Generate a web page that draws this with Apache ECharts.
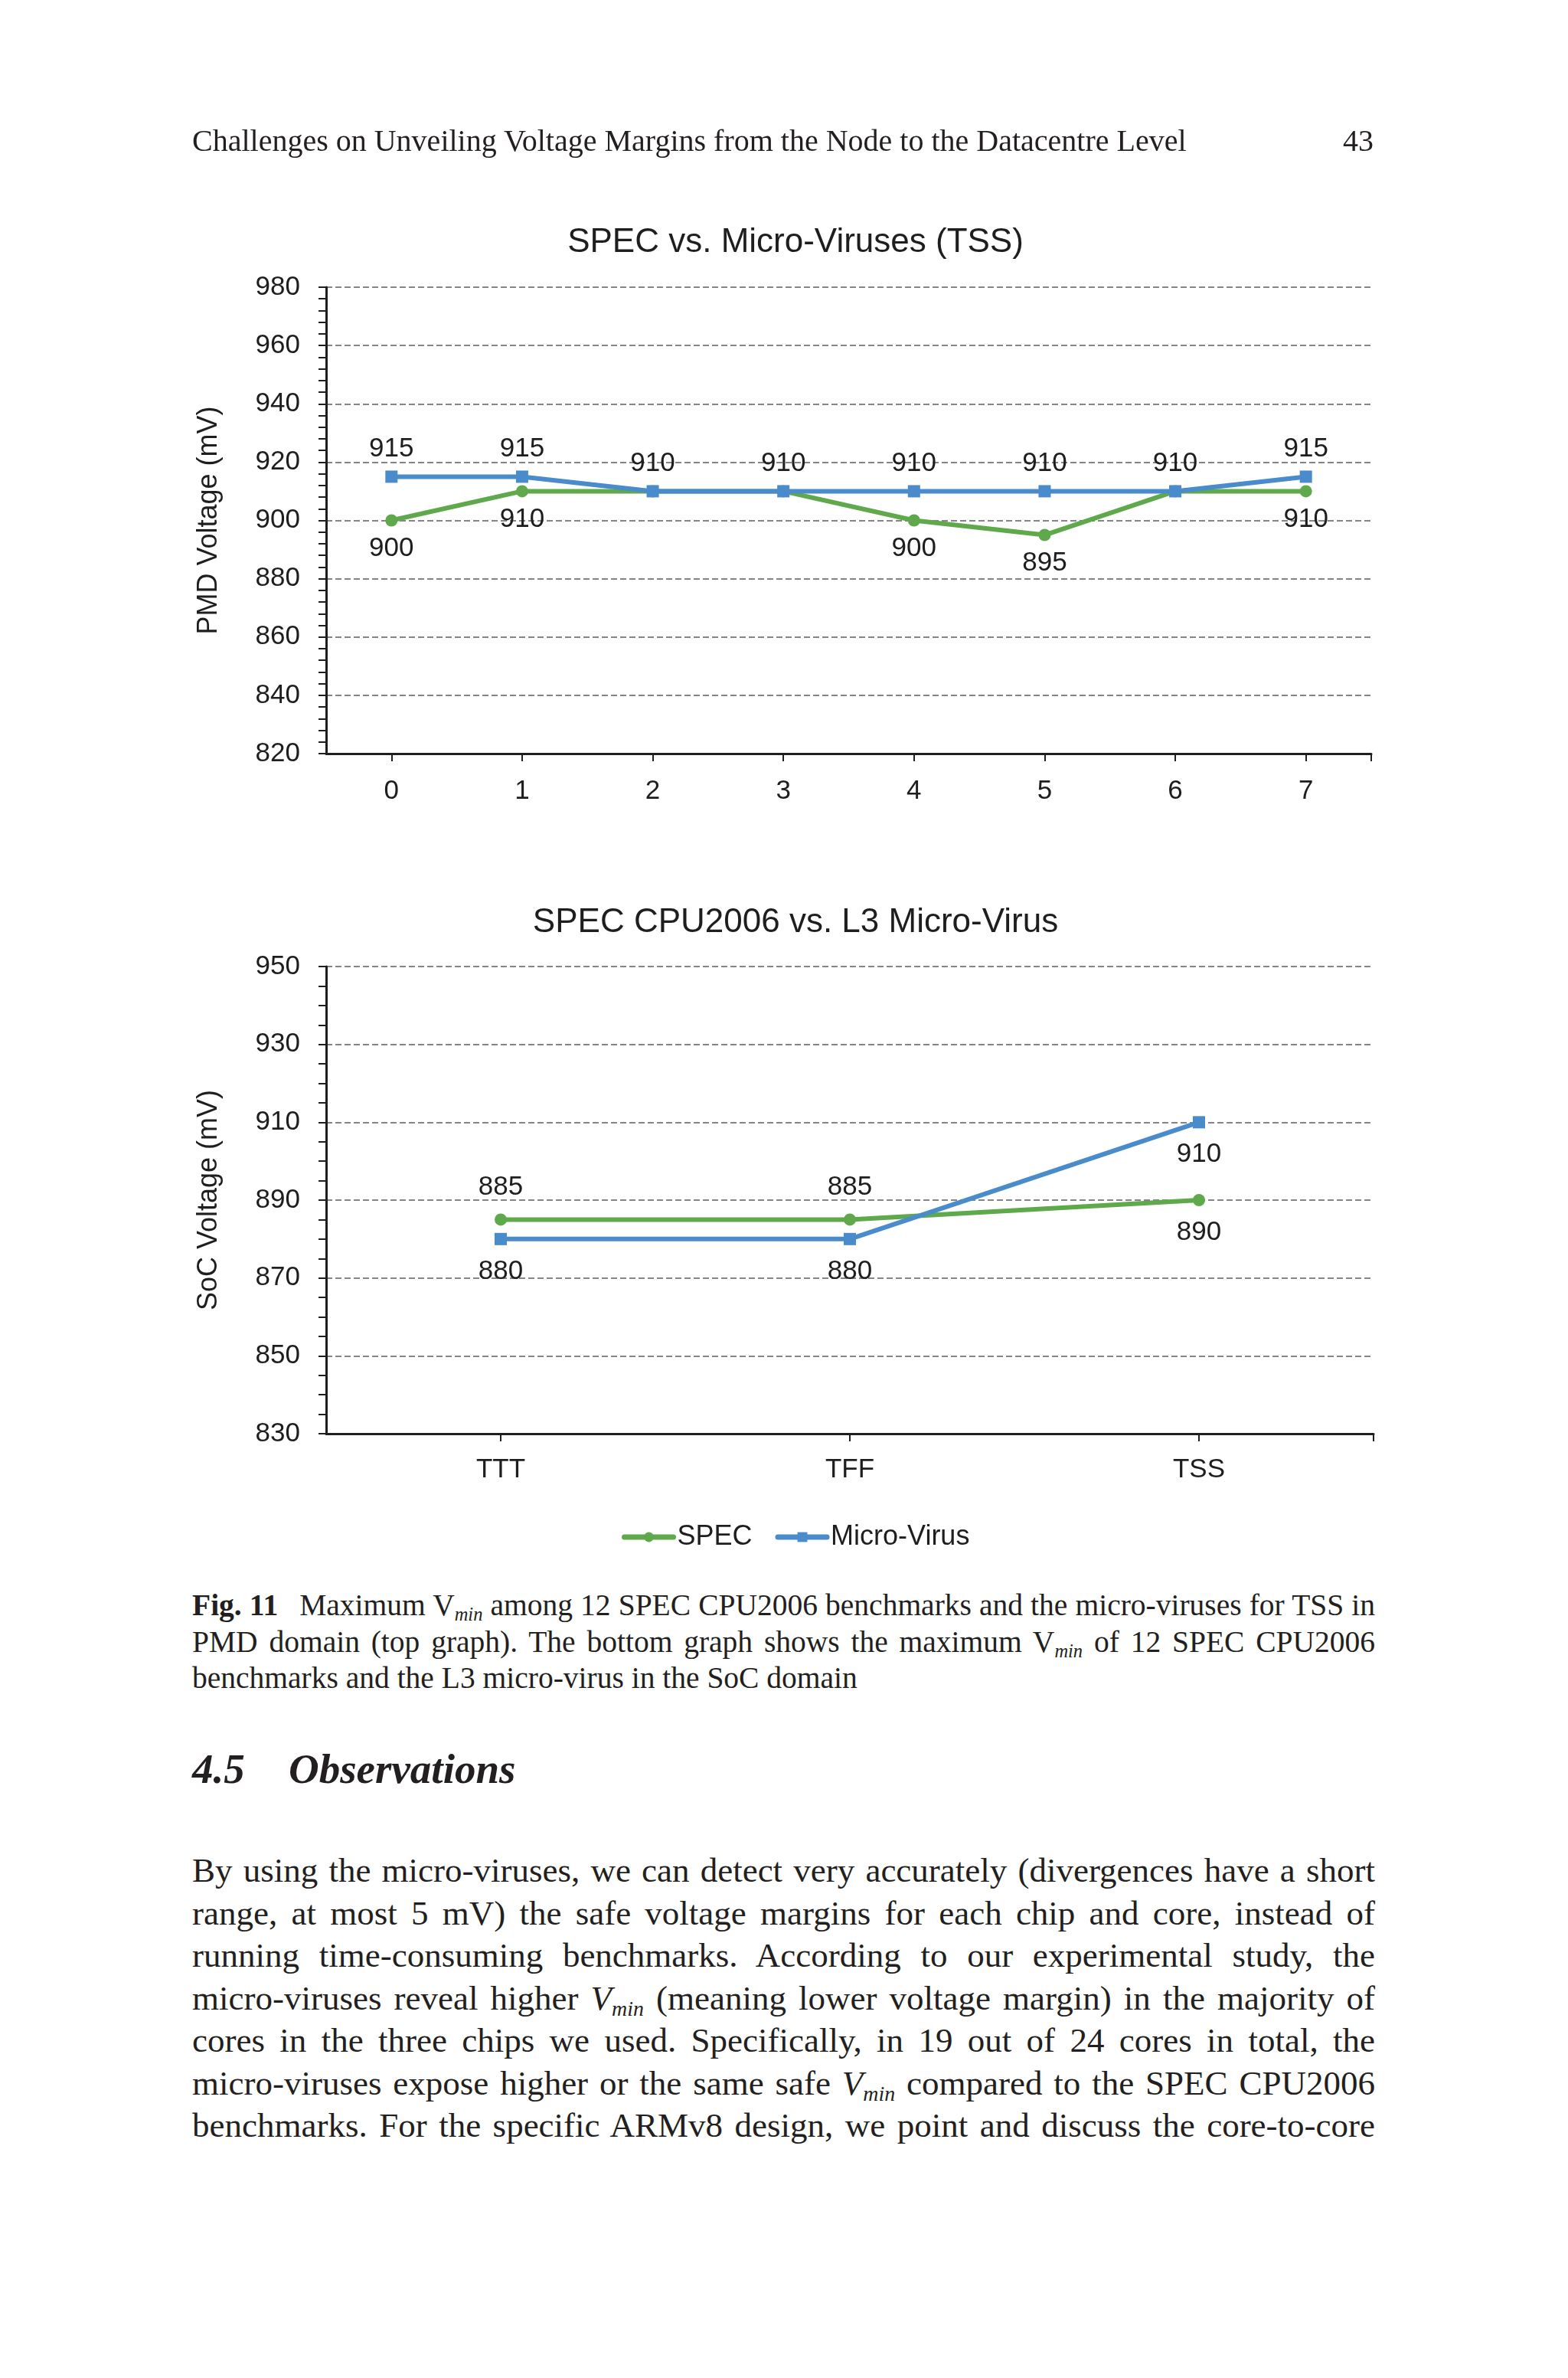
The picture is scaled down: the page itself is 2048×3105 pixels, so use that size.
<!DOCTYPE html>
<html>
<head>
<meta charset="utf-8">
<script src="https://cdn.jsdelivr.net/npm/echarts@6/dist/echarts.min.js"></script>
<style>
  html, body { margin: 0; padding: 0; background: #ffffff; }
  body { width: 2048px; height: 3105px; position: relative; overflow: hidden; }
  #chart { position: absolute; left: 0; top: 0; width: 2048px; height: 2060px; z-index: 1; }
  .serif { font-family: "Liberation Serif", "Times New Roman", "DejaVu Serif", serif; color: #231f20; }
  .abs { position: absolute; z-index: 5; }
  .just { text-align: justify; text-align-last: justify; white-space: nowrap; }
  .vsub { font-size: 0.62em; font-style: italic; vertical-align: -0.3em; line-height: 0; }
</style>
</head>
<body>
<div id="chart"></div>

<div class="serif abs" style="left:251px; top:159px; font-size:40px; line-height:50px;">Challenges on Unveiling Voltage Margins from the Node to the Datacentre Level</div>
<div class="serif abs" style="left:1694px; width:100px; text-align:right; top:159px; font-size:40px; line-height:50px;">43</div>

<div class="serif abs" style="left:251px; width:1545px; top:2073px; font-size:39.5px; line-height:47.5px;">
  <div class="just"><b>Fig. 11</b><span style="display:inline-block;width:18px"></span> Maximum V<span class="vsub">min</span> among 12 SPEC CPU2006 benchmarks and the micro-viruses for TSS in</div>
  <div class="just">PMD domain (top graph). The bottom graph shows the maximum V<span class="vsub">min</span> of 12 SPEC CPU2006</div>
  <div>benchmarks and the L3 micro-virus in the SoC domain</div>
</div>

<div class="serif abs" style="left:251px; top:2277px; font-size:55px; line-height:66px; font-weight:bold; font-style:italic;">4.5</div>
<div class="serif abs" style="left:377px; top:2277px; font-size:55px; line-height:66px; font-weight:bold; font-style:italic;">Observations</div>

<div class="serif abs" style="left:251px; width:1545px; top:2415px; font-size:45px; line-height:55.5px;">
  <div class="just">By using the micro-viruses, we can detect very accurately (divergences have a short</div>
  <div class="just">range, at most 5 mV) the safe voltage margins for each chip and core, instead of</div>
  <div class="just">running time-consuming benchmarks. According to our experimental study, the</div>
  <div class="just">micro-viruses reveal higher <i>V</i><span class="vsub">min</span> (meaning lower voltage margin) in the majority of</div>
  <div class="just">cores in the three chips we used. Specifically, in 19 out of 24 cores in total, the</div>
  <div class="just">micro-viruses expose higher or the same safe <i>V</i><span class="vsub">min</span> compared to the SPEC CPU2006</div>
  <div class="just">benchmarks. For the specific ARMv8 design, we point and discuss the core-to-core</div>
</div>

<script>
// ---- data ----
const coreCategories = ['0', '1', '2', '3', '4', '5', '6', '7'];
const pmdSpec  = [900, 910, 910, 910, 900, 895, 910, 910];
const pmdVirus = [915, 915, 910, 910, 910, 910, 910, 915];
const pmdAxis  = { min: 820, max: 980, interval: 20 };

const chipCategories = ['TTT', 'TFF', 'TSS'];
const socSpec  = [885, 885, 890];
const socVirus = [880, 880, 910];
const socAxis  = { min: 830, max: 950, interval: 20 };

const seriesNames = ['SPEC', 'Micro-Virus'];
const titles = ['SPEC vs. Micro-Viruses (TSS)', 'SPEC CPU2006 vs. L3 Micro-Virus'];
const yNames = ['PMD Voltage (mV)', 'SoC Voltage (mV)'];

// label placement for the bottom chart (as in the original)
const socSpecLabelPos  = ['top', 'top', 'bottom'];
const socVirusLabelPos = ['bottom', 'bottom', 'bottom'];

// ---- style ----
const GREEN = '#5FA94C';
const BLUE = '#4A8BCB';
const FONT = '"Liberation Sans", Arial, Helvetica, sans-serif';
const TXT = '#1e1e1e';
const AXIS = '#1e1e1e';

function yAxisCfg(gridIndex, ax, name, minorSplit) {
  return {
    type: 'value', gridIndex, min: ax.min, max: ax.max, interval: ax.interval,
    name, nameLocation: 'middle', nameRotate: 90, nameGap: 135,
    nameTextStyle: { fontFamily: FONT, fontSize: 36, color: TXT },
    axisLine: { show: true, lineStyle: { color: AXIS, width: 3 } },
    axisTick: { show: true, length: 10, lineStyle: { color: AXIS, width: 2 } },
    minorTick: { show: true, splitNumber: minorSplit, length: 10, lineStyle: { color: AXIS, width: 2 } },
    axisLabel: { fontFamily: FONT, fontSize: 35, color: TXT, margin: 34 },
    splitLine: { show: true, lineStyle: { color: '#858585', width: 2, type: [8, 4] } },
    minorSplitLine: { show: false }
  };
}
function xAxisCfg(gridIndex, cats, margin) {
  return {
    type: 'category', gridIndex, data: cats, boundaryGap: true,
    axisLine: { show: true, lineStyle: { color: AXIS, width: 3 } },
    axisTick: { show: true, alignWithLabel: true, length: 10, lineStyle: { color: AXIS, width: 2 } },
    axisLabel: { fontFamily: FONT, fontSize: 35, color: TXT, margin },
    splitLine: { show: false }
  };
}
function endTickAxis(gridIndex) {
  return {
    type: 'value', gridIndex, min: 0, max: 1, position: 'bottom',
    axisLine: { show: false },
    axisLabel: { show: false },
    splitLine: { show: false },
    axisTick: { show: true, customValues: [1], length: 10, lineStyle: { color: AXIS, width: 2 } }
  };
}
const lbl = (pos, dist, show) => ({ show: show !== false, position: pos, distance: dist, fontFamily: FONT, fontSize: 35, color: TXT });

function lineSeries(name, color, symbol, xi, yi, data) {
  return {
    name, type: 'line', xAxisIndex: xi, yAxisIndex: yi, data,
    symbol, symbolSize: 16, showSymbol: true,
    lineStyle: { color, width: 6, cap: 'round', join: 'round' }, itemStyle: { color },
    animation: false, z: symbol === 'rect' ? 3 : 2
  };
}

// top chart: SPEC labels hidden where both series coincide
const pmdSpecData = pmdSpec.map((v, i) => ({ value: v, label: lbl('bottom', 11, v !== pmdVirus[i]) }));
const pmdVirusData = pmdVirus.map(v => ({ value: v, label: lbl('top', 11) }));
const socSpecData = socSpec.map((v, i) => ({ value: v, label: lbl(socSpecLabelPos[i], 17) }));
const socVirusData = socVirus.map((v, i) => ({ value: v, label: lbl(socVirusLabelPos[i], 17) }));

const chart = echarts.init(document.getElementById('chart'), null, { renderer: 'canvas' });
chart.setOption({
  backgroundColor: 'transparent',
  animation: false,
  title: [
    { text: titles[0], left: 1034, top: 290, textAlign: 'center',
      textStyle: { fontFamily: FONT, fontSize: 44, fontWeight: 'normal', color: TXT } },
    { text: titles[1], left: 1034, top: 1178, textAlign: 'center',
      textStyle: { fontFamily: FONT, fontSize: 44, fontWeight: 'normal', color: TXT } }
  ],
  legend: {
    data: seriesNames, left: 807, top: 1984, itemWidth: 64, itemHeight: 16, itemGap: 30,
    lineStyle: { width: 7 },
    textStyle: { fontFamily: FONT, fontSize: 36, color: TXT }
  },
  grid: [
    { left: 426, top: 375, width: 1365, height: 609, containLabel: false },
    { left: 426, top: 1262, width: 1368, height: 610, containLabel: false }
  ],
  xAxis: [xAxisCfg(0, coreCategories, 32), xAxisCfg(1, chipCategories, 30), endTickAxis(0), endTickAxis(1)],
  yAxis: [yAxisCfg(0, pmdAxis, yNames[0], 5), yAxisCfg(1, socAxis, yNames[1], 4)],
  series: [
    lineSeries(seriesNames[0], GREEN, 'circle', 0, 0, pmdSpecData),
    lineSeries(seriesNames[1], BLUE, 'rect', 0, 0, pmdVirusData),
    lineSeries(seriesNames[0], GREEN, 'circle', 1, 1, socSpecData),
    lineSeries(seriesNames[1], BLUE, 'rect', 1, 1, socVirusData)
  ]
});
</script>
</body>
</html>
